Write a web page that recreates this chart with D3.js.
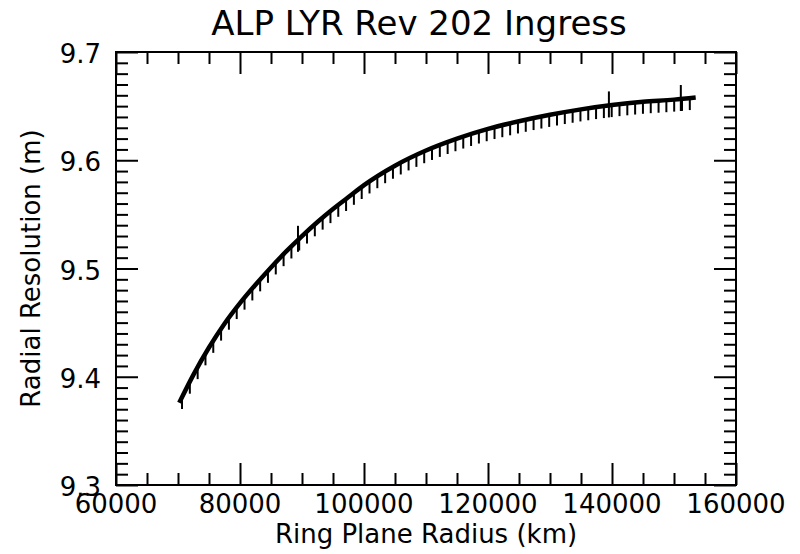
<!DOCTYPE html>
<html>
<head>
<meta charset="utf-8">
<script src="https://cdn.jsdelivr.net/npm/d3@7/dist/d3.min.js"></script>
<style>
  html, body { margin: 0; padding: 0; background: #fff; }
  svg { display: block; }
  text { font-family: "DejaVu Sans", sans-serif; fill: #000; }
</style>
</head>
<body>
<svg id="chart" width="800" height="554"></svg>
<script>
// ---- data ----
const title = "ALP LYR Rev 202 Ingress";
const xLabel = "Ring Plane Radius (km)";
const yLabel = "Radial Resolution (m)";

const radiusKm = [70200, 72500, 75000, 77500, 80000, 82500, 85000, 87500, 90000, 92500,
                  95000, 97500, 100000, 105000, 110000, 115000, 120000, 125000, 130000,
                  135000, 140000, 145000, 150000, 153500];
const resolutionM = [9.376, 9.402, 9.427, 9.449, 9.468, 9.485, 9.501, 9.516, 9.530, 9.543,
                     9.555, 9.566, 9.577, 9.595, 9.609, 9.620, 9.629, 9.636, 9.642,
                     9.647, 9.651, 9.654, 9.656, 9.658];

// small hatch marks hanging below the curve
const hatchKm = [70650, 71910, 73170, 74430, 75690, 76950, 78210, 79470, 80730, 81990,
                 83250, 84510, 85770, 87030, 88290, 89550, 90810, 92070, 93330, 94590,
                 95850, 97110, 98370, 99630, 100890, 102150, 103410, 104670, 105930, 107190,
                 108450, 109710, 110970, 112230, 113490, 114750, 116010, 117270, 118530, 119790,
                 121050, 122310, 123570, 124830, 126090, 127350, 128610, 129870, 131130, 132390,
                 133650, 134910, 136170, 137430, 138690, 139950, 141210, 142470, 143730, 144990,
                 146250, 147510, 148770, 150030, 151290, 152550];
// taller marks crossing the curve
const tallKm = [89350, 139500, 151100];

const xTicks = [60000, 80000, 100000, 120000, 140000, 160000];
const xTickLabels = ["60000", "80000", "100000", "120000", "140000", "160000"];
const yTicks = [9.3, 9.4, 9.5, 9.6, 9.7];
const yTickLabels = ["9.3", "9.4", "9.5", "9.6", "9.7"];

// ---- layout ----
const L = 116, R = 736, T = 52, B = 485;
const svg = d3.select("#chart");

const x = d3.scaleLinear().domain([60000, 160000]).range([L, R]);
const y = d3.scaleLinear().domain([9.3, 9.7]).range([B, T]);

const xMinor = d3.range(60000, 160001, 5000).filter(v => !xTicks.includes(v));
const yMinor = d3.range(0, 41).map(i => +(9.3 + i * 0.01).toFixed(2)).filter(v => !yTicks.some(t => Math.abs(t - v) < 1e-9));

function styleAxis(g) {
  g.select(".domain").remove();
  g.selectAll(".tick line").attr("stroke", "#000").attr("stroke-width", 2);
  g.selectAll(".tick text").remove();
}

// inward ticks on all four sides
svg.append("g").attr("transform", `translate(0,${B})`)
  .call(d3.axisBottom(x).tickValues(xTicks).tickSize(-22)).call(styleAxis);
svg.append("g").attr("transform", `translate(0,${B})`)
  .call(d3.axisBottom(x).tickValues(xMinor).tickSize(-12)).call(styleAxis);
svg.append("g").attr("transform", `translate(0,${T})`)
  .call(d3.axisTop(x).tickValues(xTicks).tickSize(-22)).call(styleAxis);
svg.append("g").attr("transform", `translate(0,${T})`)
  .call(d3.axisTop(x).tickValues(xMinor).tickSize(-12)).call(styleAxis);
svg.append("g").attr("transform", `translate(${L},0)`)
  .call(d3.axisLeft(y).tickValues(yTicks).tickSize(-22)).call(styleAxis);
svg.append("g").attr("transform", `translate(${L},0)`)
  .call(d3.axisLeft(y).tickValues(yMinor).tickSize(-12)).call(styleAxis);
svg.append("g").attr("transform", `translate(${R},0)`)
  .call(d3.axisRight(y).tickValues(yTicks).tickSize(-22)).call(styleAxis);
svg.append("g").attr("transform", `translate(${R},0)`)
  .call(d3.axisRight(y).tickValues(yMinor).tickSize(-12)).call(styleAxis);

// frame
svg.append("rect").attr("x", L).attr("y", T).attr("width", R - L).attr("height", B - T)
  .attr("fill", "none").attr("stroke", "#000").attr("stroke-width", 2);

// tick labels
svg.append("g").selectAll("text").data(xTicks).join("text")
  .attr("x", d => x(d)).attr("y", 513)
  .attr("text-anchor", "middle").attr("font-size", 26)
  .text((d, i) => xTickLabels[i]);
svg.append("g").selectAll("text").data(yTicks).join("text")
  .attr("x", 101).attr("y", d => y(d) + 11)
  .attr("text-anchor", "end").attr("font-size", 26)
  .text((d, i) => yTickLabels[i]);

// titles
svg.append("text").attr("x", 419).attr("y", 35).attr("text-anchor", "middle")
  .attr("font-size", 34).text(title);
svg.append("text").attr("x", (L + R) / 2).attr("y", 543).attr("text-anchor", "middle")
  .attr("font-size", 26).text(xLabel);
svg.append("text").attr("transform", `translate(40,${(T + B) / 2}) rotate(-90)`)
  .attr("text-anchor", "middle").attr("font-size", 26).text(yLabel);

// curve
const pts = radiusKm.map((r, i) => [r, resolutionM[i]]);
const line = d3.line().x(d => x(d[0])).y(d => y(d[1])).curve(d3.curveMonotoneX);
const path = svg.append("path").datum(pts).attr("d", line)
  .attr("fill", "none").attr("stroke", "#000").attr("stroke-width", 4.5)
  .attr("stroke-linecap", "butt");

// find the curve's pixel y at a given pixel x from the drawn path geometry
const node = path.node();
const total = node.getTotalLength();
const samples = d3.range(0, 1001).map(i => node.getPointAtLength(total * i / 1000));
function yOnPath(px) {
  let best = samples[0];
  for (const s of samples) if (Math.abs(s.x - px) < Math.abs(best.x - px)) best = s;
  return best.y;
}

svg.append("g").selectAll("line").data(hatchKm).join("line")
  .attr("x1", d => x(d)).attr("x2", d => x(d))
  .attr("y1", d => yOnPath(x(d))).attr("y2", d => yOnPath(x(d)) + 12)
  .attr("stroke", "#000").attr("stroke-width", 2);

svg.append("g").selectAll("line").data(tallKm).join("line")
  .attr("x1", d => x(d)).attr("x2", d => x(d))
  .attr("y1", d => yOnPath(x(d)) - 14).attr("y2", d => yOnPath(x(d)) + 12)
  .attr("stroke", "#000").attr("stroke-width", 2);
</script>
</body>
</html>
